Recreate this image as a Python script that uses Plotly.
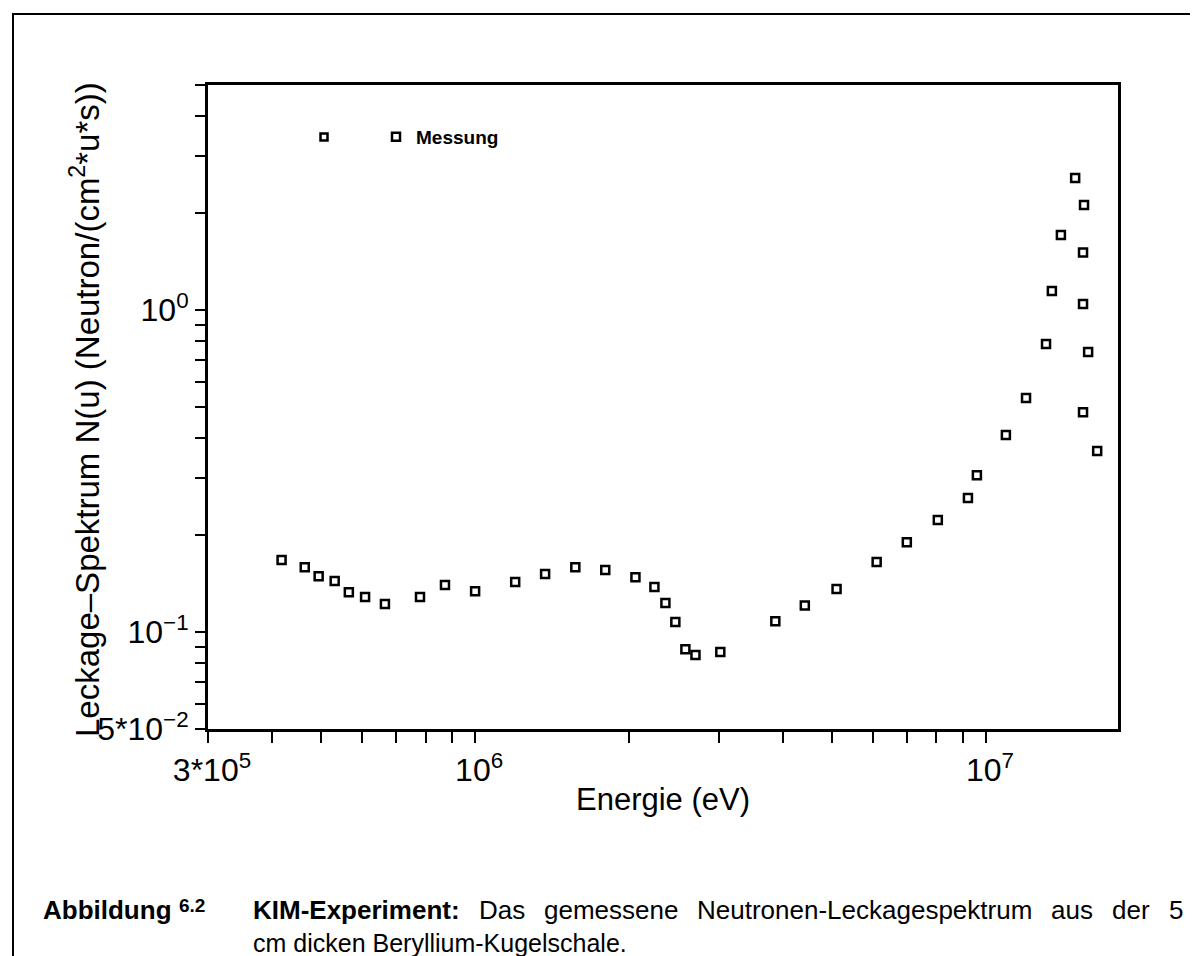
import plotly.graph_objects as go

# ---- data ----
energy_eV = [4.18e5, 4.64e5, 4.94e5, 5.31e5, 5.66e5, 6.09e5, 6.66e5, 7.80e5, 8.73e5,
             1.00e6, 1.198e6, 1.371e6, 1.571e6, 1.798e6, 2.06e6, 2.244e6, 2.358e6,
             2.466e6, 2.58e6, 2.70e6, 3.02e6, 3.87e6, 4.42e6, 5.10e6, 6.11e6, 7.00e6,
             8.05e6, 9.22e6, 9.60e6, 1.094e7, 1.198e7, 1.311e7, 1.346e7, 1.402e7,
             1.495e7, 1.556e7, 1.549e7, 1.549e7, 1.585e7, 1.549e7, 1.651e7]
leakage = [0.1674, 0.159, 0.149, 0.144, 0.133, 0.1284, 0.1222, 0.1284, 0.140,
           0.134, 0.143, 0.1514, 0.159, 0.1558, 0.148, 0.138, 0.123,
           0.1074, 0.0885, 0.0849, 0.0867, 0.108, 0.121, 0.136, 0.165, 0.190,
           0.223, 0.261, 0.307, 0.409, 0.533, 0.784, 1.146, 1.71,
           2.57, 2.12, 1.51, 1.044, 0.741, 0.482, 0.365]
series_name = "Messung"

x_tickvals = [3e5, 1e6, 1e7]
x_ticktext = ["3*10<sup>5</sup>", "10<sup>6</sup>", "10<sup>7</sup>"]
x_minorvals = [4e5, 5e5, 6e5, 7e5, 8e5, 9e5, 2e6, 3e6, 4e6, 5e6, 6e6, 7e6, 8e6, 9e6]
y_tickvals = [0.05, 0.1, 1]
y_ticktext = ["5*10<sup>\u22122</sup>", "10<sup>\u22121</sup>", "10<sup>0</sup>"]
y_minorvals = [0.06, 0.07, 0.08, 0.09, 0.2, 0.3, 0.4, 0.5, 0.6, 0.7, 0.8, 0.9, 2, 3, 4, 5]

x_title = "Energie (eV)"
y_title = "Leckage\u2013Spektrum N(u) (Neutron/(cm<sup>2</sup>*u*s))"
cap_label = "Abbildung"
cap_number = "6.2"
cap_bold = "KIM-Experiment:"
cap_line1_words = ["Das", "gemessene", "Neutronen-Leckagespektrum", "aus", "der", "5"]
cap_line2 = "cm dicken Beryllium-Kugelschale."

# ---- geometry ----
W, H = 1198, 956
L, R, T, B = 200, 88, 77, 235
pw, ph = W - L - R, H - T - B

def px(xp):
    return (xp - L) / pw

def py(yp):
    return (H - B - yp) / ph

# Arial / Liberation Sans advance widths (em) used to justify the caption line
REG = {'D': .722, 'a': .556, 's': .5, 'g': .556, 'e': .556, 'm': .833, 'n': .556,
       'N': .722, 'u': .556, 't': .278, 'r': .333, 'o': .556, '-': .333, 'L': .556,
       'c': .5, 'k': .5, 'p': .556, 'd': .556, '5': .556}
BOLD = {'K': .722, 'I': .278, 'M': .833, '-': .333, 'E': .667, 'x': .556, 'p': .611,
        'e': .556, 'r': .389, 'i': .278, 'm': .889, 'n': .611, 't': .333, ':': .333}

def text_w(s, table, size):
    return sum(table[c] for c in s) * size

CAP = 26
FAM = "Liberation Sans, Arial"
TICKFONT = dict(family="Liberation Sans Narrow, Liberation Sans, Arial", size=32, color="black")

fig = go.Figure()
fig.add_trace(go.Scatter(
    x=energy_eV, y=leakage, mode="markers", name="<b>" + series_name + "</b>",
    marker=dict(symbol="square-open", size=8, color="black", line=dict(width=2.5, color="black")),
))

fig.update_layout(
    width=W, height=H, autosize=False,
    margin=dict(l=L, r=R, t=T, b=B),
    paper_bgcolor="white", plot_bgcolor="white",
    showlegend=True,
    legend=dict(x=px(368), y=py(129), xanchor="left", yanchor="middle",
                bgcolor="rgba(0,0,0,0)", borderwidth=0,
                font=dict(family=FAM, size=19, color="black")),
)

fig.update_xaxes(
    type="log", range=[5.47712, 7.2585],
    tickvals=x_tickvals, ticktext=x_ticktext,
    ticks="outside", ticklen=11, tickwidth=2, tickcolor="black",
    minor=dict(tickvals=x_minorvals, ticks="outside", ticklen=11, tickwidth=2,
               tickcolor="black", showgrid=False),
    showline=True, linewidth=3, linecolor="black", mirror=True,
    showgrid=False, zeroline=False, tickfont=TICKFONT, ticklabelstandoff=0,
    ticklabelshift=4,
)
fig.update_yaxes(
    type="log", range=[-1.30103, 0.69897],
    tickvals=y_tickvals, ticktext=y_ticktext,
    ticks="outside", ticklen=10, tickwidth=2, tickcolor="black",
    minor=dict(tickvals=y_minorvals, ticks="outside", ticklen=10, tickwidth=2,
               tickcolor="black", showgrid=False),
    showline=True, linewidth=3, linecolor="black", mirror=True,
    showgrid=False, zeroline=False, tickfont=TICKFONT, ticklabelstandoff=0,
)

def note(text, xp, yp, size, anchor="left", bold=False, angle=0):
    fig.add_annotation(text=("<b>%s</b>" % text) if bold else text,
                       x=px(xp), y=py(yp), xref="paper", yref="paper",
                       showarrow=False, xanchor=anchor, yanchor="middle", textangle=angle,
                       font=dict(family=FAM, size=size, color="black"))

note(x_title, 655, 791, 31, anchor="center")
note(y_title, 77, 402, 33, anchor="center", angle=-90)

# caption (justified first line)
LINE1_Y, LINE2_Y = 902, 935
note(cap_label, 33, LINE1_Y, CAP, bold=True)
note(cap_number, 169, LINE1_Y - 5, 19, bold=True)
x_start, x_end = 243, 1173
widths = [text_w(cap_bold, BOLD, CAP)] + [text_w(w, REG, CAP) for w in cap_line1_words]
gap = (x_end - x_start - sum(widths)) / len(cap_line1_words)
xcur = x_start
note(cap_bold, xcur, LINE1_Y, CAP, bold=True)
xcur += widths[0] + gap
for w, wd in zip(cap_line1_words, widths[1:]):
    note(w, xcur, LINE1_Y, CAP)
    xcur += wd + gap
note(cap_line2, x_start, LINE2_Y, 25)

# outer figure frame (top and left visible) and the extra legend symbol
fig.add_shape(type="rect", xref="paper", yref="paper",
              x0=px(5), x1=px(1260), y0=py(1000), y1=py(6),
              line=dict(color="black", width=2), layer="above")
fig.add_shape(type="rect", xref="paper", yref="paper",
              x0=px(312.5), x1=px(319.5), y0=py(132.5), y1=py(125.5),
              line=dict(color="black", width=2.5), layer="above")

fig.write_html("out.html")
